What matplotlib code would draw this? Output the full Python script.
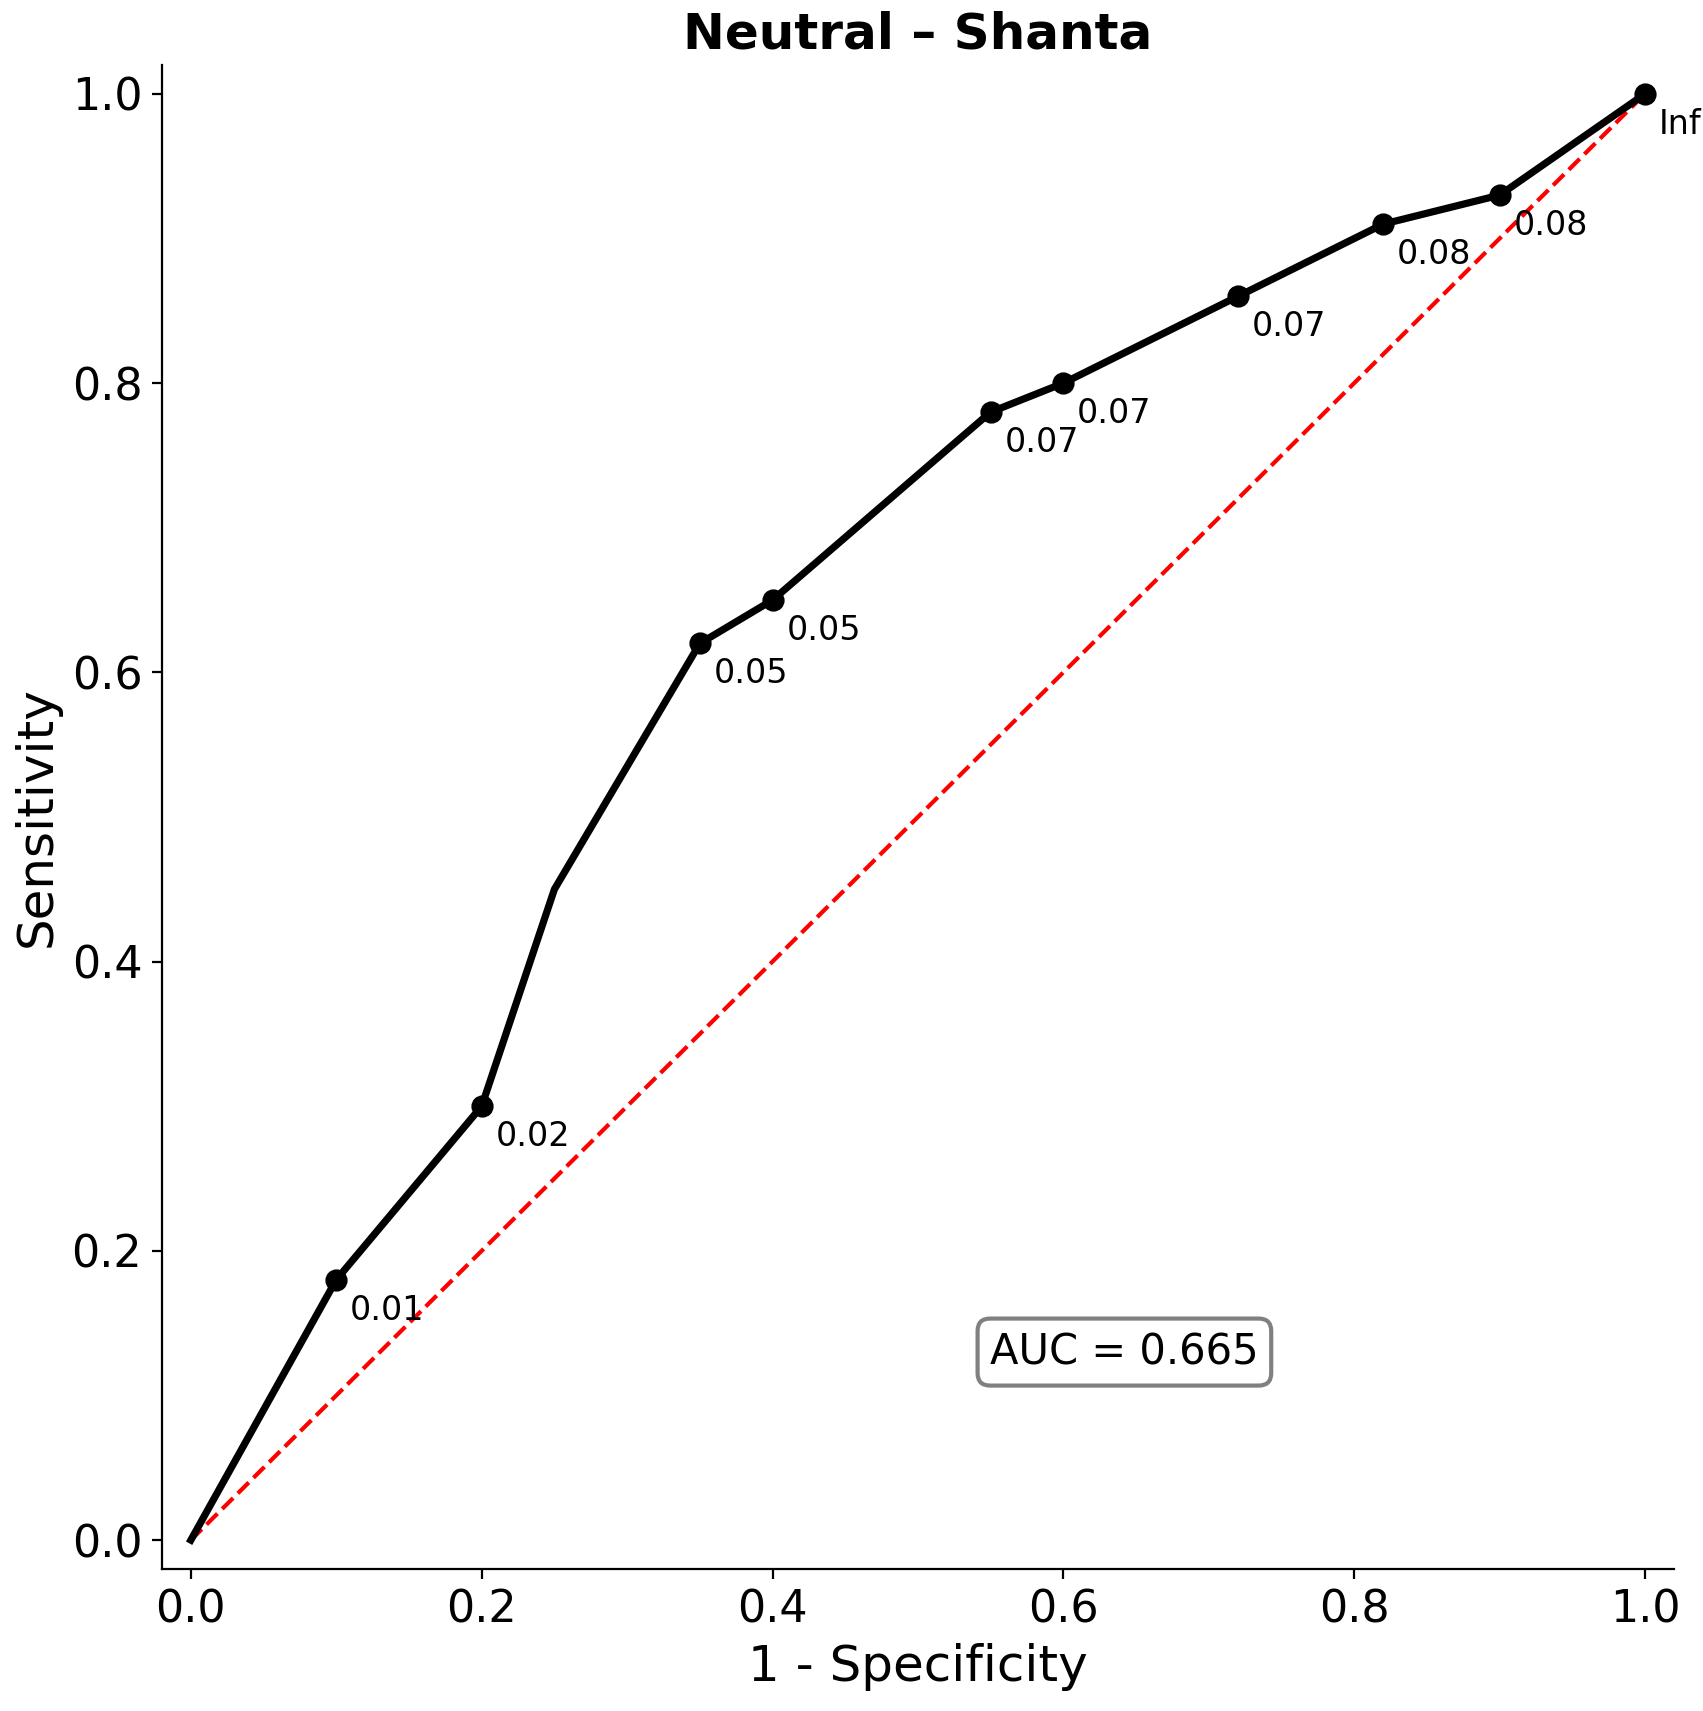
import matplotlib
matplotlib.use("Agg")
import matplotlib.pyplot as plt

fpr = [0.0, 0.1, 0.2, 0.25, 0.35, 0.4, 0.55, 0.6, 0.72, 0.82, 0.9, 1.0]
tpr = [0.0, 0.18, 0.30, 0.45, 0.62, 0.65, 0.78, 0.80, 0.86, 0.91, 0.93, 1.0]
marked = [1, 2, 4, 5, 6, 7, 8, 9, 10, 11]
labels = ["0.01", "0.02", "0.05", "0.05", "0.07", "0.07", "0.07", "0.08", "0.08", "Inf"]
auc = 0.665

fig, ax = plt.subplots(figsize=(8.515, 8.555), dpi=200)
fig.subplots_adjust(left=0.095, right=0.983, bottom=0.083, top=0.962)

ax.plot([0, 1], [0, 1], color="red", ls="--", lw=1.5)
ax.plot(fpr, tpr, color="black", lw=2.6)
ax.plot([fpr[i] for i in marked], [tpr[i] for i in marked], "o", color="black", ms=7)
for i, lab in zip(marked, labels):
    ax.annotate(lab, (fpr[i], tpr[i]), xytext=(5, -5), textcoords="offset points",
                ha="left", va="top", fontsize=12)

ax.text(0.642, 0.13, f"AUC = {auc}", fontsize=15, ha="center", va="center",
        bbox=dict(boxstyle="round,pad=0.3", fc="white", ec="gray", lw=1.5))

ax.set_xlim(-0.02, 1.02)
ax.set_ylim(-0.02, 1.02)
ax.set_xticks([0, 0.2, 0.4, 0.6, 0.8, 1.0])
ax.set_yticks([0, 0.2, 0.4, 0.6, 0.8, 1.0])
ax.tick_params(labelsize=16)
ax.spines["top"].set_visible(False)
ax.spines["right"].set_visible(False)
ax.set_xlabel("1 - Specificity", fontsize=18)
ax.set_ylabel("Sensitivity", fontsize=18)
ax.set_title("Neutral – Shanta", fontsize=18, fontweight="bold")

fig.savefig("out.png")
